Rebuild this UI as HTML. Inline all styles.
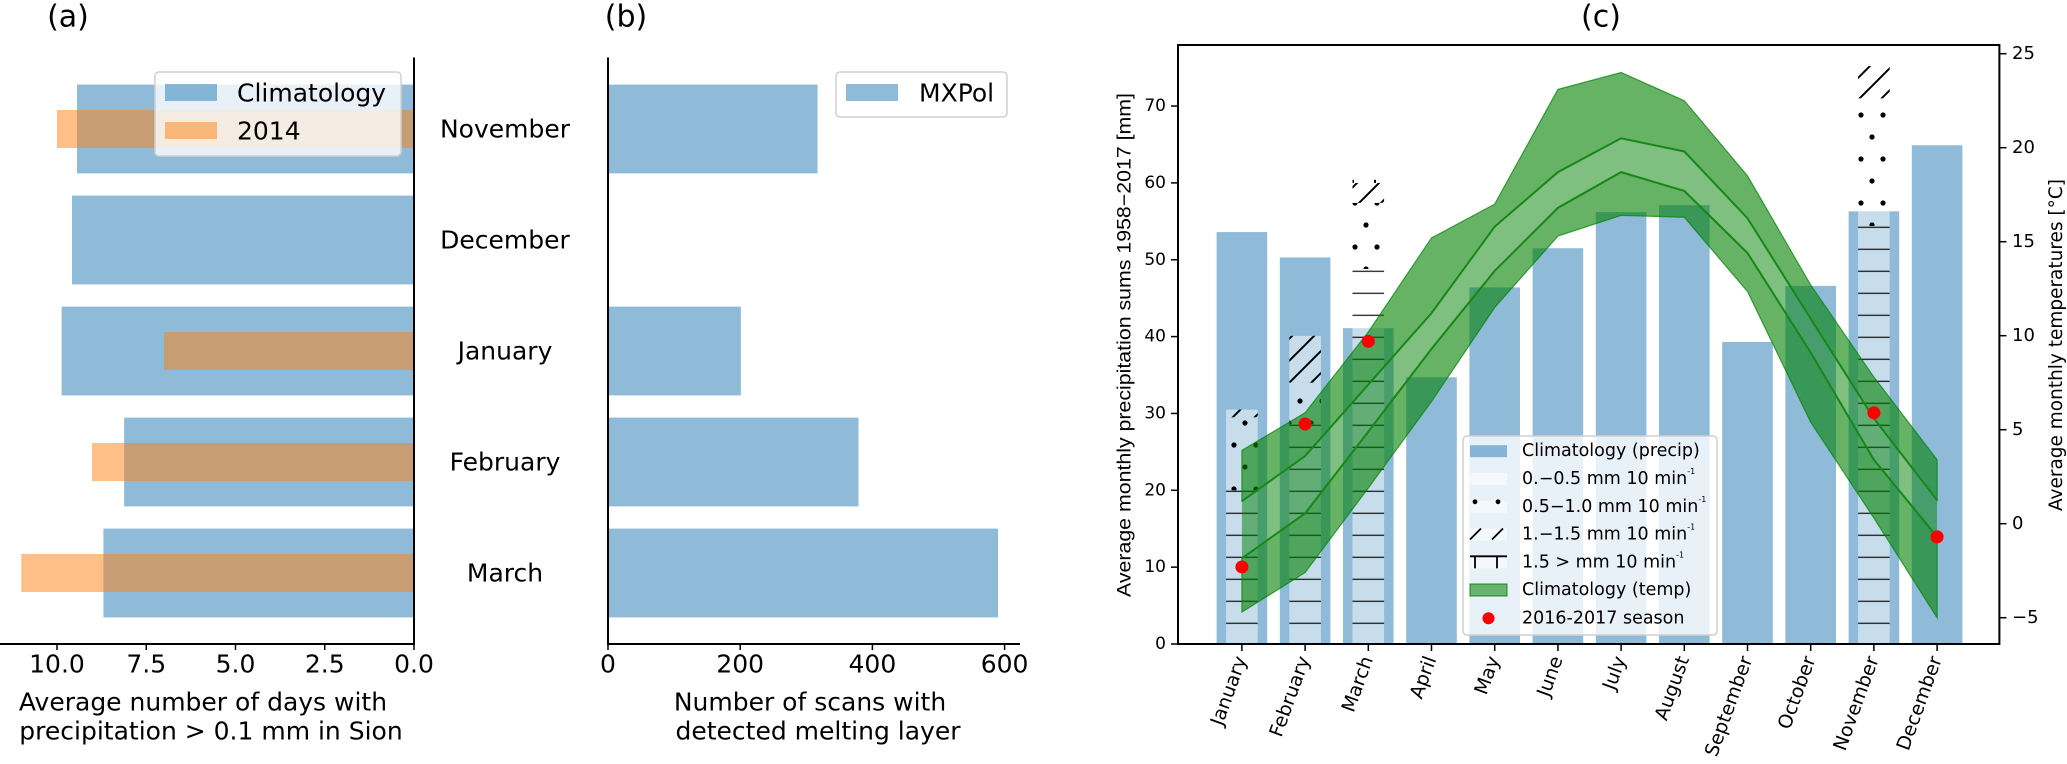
<!DOCTYPE html>
<html><head><meta charset="utf-8">
<style>
html,body{margin:0;padding:0;background:#fff;}
svg{display:block;font-family:"DejaVu Sans","Liberation Sans",sans-serif;}
</style></head>
<body>
<svg id="fig" width="2067" height="764" viewBox="0 0 2067 764" xmlns="http://www.w3.org/2000/svg">
<defs>
  <pattern id="pLines" patternUnits="userSpaceOnUse" width="22" height="22" y="6.7">
    <line x1="0" y1="0" x2="22" y2="0" stroke="#000" stroke-width="2.2"/>
  </pattern>
  <pattern id="pDots" patternUnits="userSpaceOnUse" width="22" height="44" x="1226" y="5">
    <circle cx="8" cy="0" r="2.6" fill="#000"/><circle cx="8" cy="44" r="2.6" fill="#000"/>
    <circle cx="19" cy="22" r="2.6" fill="#000"/>
  </pattern>
  <pattern id="pSlash" patternUnits="userSpaceOnUse" width="22" height="22">
    <line x1="0" y1="22" x2="22" y2="0" stroke="#000" stroke-width="2"/>
    <line x1="-11" y1="11" x2="11" y2="-11" stroke="#000" stroke-width="2"/>
    <line x1="11" y1="33" x2="33" y2="11" stroke="#000" stroke-width="2"/>
  </pattern>
  <pattern id="pPlus" patternUnits="userSpaceOnUse" width="22" height="22">
    <line x1="0" y1="0" x2="22" y2="0" stroke="#000" stroke-width="2"/>
    <line x1="11" y1="0" x2="11" y2="22" stroke="#000" stroke-width="2"/>
  </pattern>
</defs>
<g id="pa"></g>
<g id="pb"></g>
<g id="pc"></g>
</svg>
<script>
// ---- Panel (a) data
const monthsA = ['November','December','January','February','March'];
const climDays = [9.44, 9.58, 9.87, 8.12, 8.7];
const days2014 = [10.0, null, 7.0, 9.02, 11.0];
const ticksA = [10.0, 7.5, 5.0, 2.5, 0.0];
// ---- Panel (b) data
const scans = [317, 0, 201, 379, 590];
const ticksB = [0, 200, 400, 600];
// ---- Panel (c) data
const months12 = ['January','February','March','April','May','June','July','August','September','October','November','December'];
const precip = [53.6, 50.3, 41.1, 34.7, 46.4, 51.5, 56.2, 57.1, 39.3, 46.6, 56.3, 64.9];
const hLines = [20.0, 28.6, 48.8, 0, 0, 0, 0, 0, 0, 0, 54.4, 0];
const hDots  = [9.5, 5.4, 8.6, 0, 0, 0, 0, 0, 0, 0, 16.6, 0];
const hSlash = [1.0, 6.1, 2.6, 0, 0, 0, 0, 0, 0, 0, 4.2, 0];
const hPlus  = [0, 0, 0.4, 0, 0, 0, 0, 0, 0, 0, 0, 0];
const tUpperOuter = [3.9, 5.9, 10.2, 15.2, 17.0, 23.1, 24.0, 22.5, 18.5, 12.7, 7.8, 3.4];
const tUpperInner = [1.2, 3.6, 7.4, 11.2, 15.8, 18.7, 20.5, 19.8, 16.25, 10.9, 5.6, 1.25];
const tLowerInner = [-1.84, 0.55, 4.9, 9.3, 13.45, 16.8, 18.7, 17.7, 14.4, 9.1, 3.4, -0.7];
const tLowerOuter = [-4.7, -2.6, 1.9, 6.5, 11.5, 15.3, 16.4, 16.3, 12.35, 5.4, 0.3, -5.0];
const season = [-2.3, 5.3, 9.7, null, null, null, null, null, null, null, 5.9, -0.7];
const ticksCL = [0, 10, 20, 30, 40, 50, 60, 70];
const ticksCR = [-5, 0, 5, 10, 15, 20, 25];

const NS = 'http://www.w3.org/2000/svg';
function mk(parent, tag, attrs, text){
  const e = document.createElementNS(NS, tag);
  for (const k in attrs) e.setAttribute(k, attrs[k]);
  if (text !== undefined) e.textContent = text;
  parent.appendChild(e);
  return e;
}
const BLUE = 'rgba(31,119,180,0.5)', ORANGE = 'rgba(255,127,14,0.5)';

// ================= Panel A =================
const pa = document.getElementById('pa');
const axA = v => 414 - 35.7 * v;
const rowY = i => 129 + 111 * i;
let t = mk(pa, 'text', {x: 68, y: 17, 'font-size': 30, 'text-anchor': 'middle', 'dominant-baseline': 'central'}, '(a)');


monthsA.forEach((m, i) => {
  const r = mk(pa, 'rect', {x: axA(climDays[i]), y: rowY(i) - 44.4, width: axA(0) - axA(climDays[i]), height: 88.8, fill: BLUE});
  
  
  if (days2014[i] !== null) {
    const o = mk(pa, 'rect', {x: axA(days2014[i]), y: rowY(i) - 19, width: axA(0) - axA(days2014[i]), height: 38, fill: ORANGE});
    
    
  }
  const l = mk(pa, 'text', {x: 505, y: rowY(i), 'font-size': 25, 'text-anchor': 'middle', 'dominant-baseline': 'central'}, m);
  
  
});
let ln = mk(pa, 'line', {x1: 414, y1: 57.5, x2: 414, y2: 644, stroke: '#000', 'stroke-width': 2});


ln = mk(pa, 'line', {x1: 0, y1: 644, x2: 415, y2: 644, stroke: '#000', 'stroke-width': 2});


ticksA.forEach(v => {
  mk(pa, 'line', {x1: axA(v), y1: 644, x2: axA(v), y2: 650, stroke: '#000', 'stroke-width': 1.5});
  const tl = mk(pa, 'text', {x: axA(v), y: 664, 'font-size': 25, 'text-anchor': 'middle', 'dominant-baseline': 'central'}, v.toFixed(1));
  
  
});
t = mk(pa, 'text', {x: 203, y: 702, 'font-size': 25, 'text-anchor': 'middle', 'dominant-baseline': 'central'}, 'Average number of days with');


t = mk(pa, 'text', {x: 211, y: 731, 'font-size': 25, 'text-anchor': 'middle', 'dominant-baseline': 'central'}, 'precipitation > 0.1 mm in Sion');


// legend A
const legA = mk(pa, 'g', {});


mk(legA, 'rect', {x: 155, y: 72, width: 246, height: 84, rx: 4, fill: 'rgba(255,255,255,0.8)', stroke: '#d0d0d0', 'stroke-width': 1.5});
mk(legA, 'rect', {x: 165, y: 84, width: 52, height: 17, fill: BLUE});
mk(legA, 'rect', {x: 165, y: 122, width: 52, height: 17, fill: ORANGE});
t = mk(legA, 'text', {x: 237, y: 93, 'font-size': 25, 'dominant-baseline': 'central'}, 'Climatology');


t = mk(legA, 'text', {x: 237, y: 131, 'font-size': 25, 'dominant-baseline': 'central'}, '2014');



// ================= Panel B =================
const pb = document.getElementById('pb');
const bx = v => 608 + 0.661 * v;
t = mk(pb, 'text', {x: 626, y: 17, 'font-size': 30, 'text-anchor': 'middle', 'dominant-baseline': 'central'}, '(b)');


scans.forEach((v, i) => {
  if (v > 0) {
    const r = mk(pb, 'rect', {x: bx(0), y: rowY(i) - 44.4, width: bx(v) - bx(0), height: 88.8, fill: BLUE});
    
    
  }
});
ln = mk(pb, 'line', {x1: 608, y1: 57.5, x2: 608, y2: 645, stroke: '#000', 'stroke-width': 2});


ln = mk(pb, 'line', {x1: 607, y1: 644, x2: 1020, y2: 644, stroke: '#000', 'stroke-width': 2});


ticksB.forEach(v => {
  mk(pb, 'line', {x1: bx(v), y1: 644, x2: bx(v), y2: 650, stroke: '#000', 'stroke-width': 1.5});
  const tl = mk(pb, 'text', {x: bx(v), y: 664, 'font-size': 25, 'text-anchor': 'middle', 'dominant-baseline': 'central'}, String(v));
  
  
});
t = mk(pb, 'text', {x: 810, y: 702, 'font-size': 25, 'text-anchor': 'middle', 'dominant-baseline': 'central'}, 'Number of scans with');


t = mk(pb, 'text', {x: 818, y: 731, 'font-size': 25, 'text-anchor': 'middle', 'dominant-baseline': 'central'}, 'detected melting layer');


const legB = mk(pb, 'g', {});


mk(legB, 'rect', {x: 836, y: 72, width: 171, height: 45, rx: 4, fill: 'rgba(255,255,255,0.8)', stroke: '#d0d0d0', 'stroke-width': 1.5});
mk(legB, 'rect', {x: 846, y: 84, width: 52, height: 17, fill: BLUE});
t = mk(legB, 'text', {x: 919, y: 93, 'font-size': 25, 'dominant-baseline': 'central'}, 'MXPol');



// ================= Panel C =================
const pc = document.getElementById('pc');
const cx = i => 1241.9 + 63.2 * i;
const cy = mm => 644 - 7.685 * mm;
const ty = T => 523.7 - 18.8 * T;
t = mk(pc, 'text', {x: 1601, y: 17, 'font-size': 30, 'text-anchor': 'middle', 'dominant-baseline': 'central'}, '(c)');


const clip = mk(document.querySelector('defs'), 'clipPath', {id: 'clipC'});
mk(clip, 'rect', {x: 1178, y: 45, width: 821, height: 599});
const plot = mk(pc, 'g', {'clip-path': 'url(#clipC)'});


months12.forEach((m, i) => {
  const r = mk(plot, 'rect', {x: cx(i) - 25.3, y: cy(precip[i]), width: 50.6, height: cy(0) - cy(precip[i]), fill: BLUE});
  
  
});
// hatched stacked bars
const segs = [[hLines, 'url(#pLines)'], [hDots, 'url(#pDots)'], [hSlash, 'url(#pSlash)'], [hPlus, 'url(#pPlus)']];
months12.forEach((m, i) => {
  let base = 0;
  segs.forEach(([arr, pat], k) => {
    const h = arr[i];
    if (h > 0) {
      mk(plot, 'rect', {x: cx(i) - 15.8, y: cy(base + h), width: 31.6, height: cy(base) - cy(base + h), fill: 'rgba(255,255,255,0.5)'});
      const r = mk(plot, 'rect', {x: cx(i) - 15.8, y: cy(base + h), width: 31.6, height: cy(base) - cy(base + h), fill: pat});
      
      
    }
    base += h;
  });
});
// temperature bands
function bandPath(top, bot){
  let d = '';
  top.forEach((v, i) => { d += (i ? 'L' : 'M') + cx(i) + ',' + ty(v); });
  for (let i = bot.length - 1; i >= 0; i--) d += 'L' + cx(i) + ',' + ty(bot[i]);
  return d + 'Z';
}
function linePath(arr){
  let d = '';
  arr.forEach((v, i) => { d += (i ? 'L' : 'M') + cx(i) + ',' + ty(v); });
  return d;
}
let p = mk(plot, 'path', {d: bandPath(tUpperOuter, tUpperInner), fill: 'rgba(0,128,0,0.6)', stroke: 'rgba(0,128,0,0.7)', 'stroke-width': 1.2});


p = mk(plot, 'path', {d: bandPath(tUpperInner, tLowerInner), fill: 'rgba(0,128,0,0.5)', stroke: 'none'});


p = mk(plot, 'path', {d: bandPath(tLowerInner, tLowerOuter), fill: 'rgba(0,128,0,0.6)', stroke: 'rgba(0,128,0,0.7)', 'stroke-width': 1.2});


p = mk(plot, 'path', {d: linePath(tUpperInner), fill: 'none', stroke: '#178717', 'stroke-width': 2});


p = mk(plot, 'path', {d: linePath(tLowerInner), fill: 'none', stroke: '#178717', 'stroke-width': 2});


season.forEach((v, i) => {
  if (v !== null) {
    const c = mk(plot, 'circle', {cx: cx(i), cy: ty(v), r: 6.5, fill: '#ff0000'});
    
    
  }
});
// frame
const fr = mk(pc, 'rect', {x: 1178, y: 45, width: 821.4, height: 599, fill: 'none', stroke: '#000', 'stroke-width': 2});


ticksCL.forEach(v => {
  mk(pc, 'line', {x1: 1171, y1: cy(v), x2: 1178, y2: cy(v), stroke: '#000', 'stroke-width': 1.5});
  const tl = mk(pc, 'text', {x: 1166, y: cy(v), 'font-size': 17, 'text-anchor': 'end', 'dominant-baseline': 'central'}, String(v));
  
  
});
ticksCR.forEach(v => {
  mk(pc, 'line', {x1: 1999.4, y1: ty(v), x2: 2006.5, y2: ty(v), stroke: '#000', 'stroke-width': 1.5});
  const tl = mk(pc, 'text', {x: 2012, y: ty(v), 'font-size': 18, 'dominant-baseline': 'central'}, v < 0 ? '\u2212' + Math.abs(v) : String(v));
  
  
});
months12.forEach((m, i) => {
  mk(pc, 'line', {x1: cx(i), y1: 644, x2: cx(i), y2: 651, stroke: '#000', 'stroke-width': 1.5});
  const tl = mk(pc, 'text', {x: cx(i) + 5, y: 659, 'font-size': 19, 'text-anchor': 'end', transform: 'rotate(-70 ' + (cx(i) + 5) + ' 659)'}, m);
  
  
});
t = mk(pc, 'text', {x: 0, y: 0, 'font-size': 19, 'text-anchor': 'middle', 'dominant-baseline': 'central', 'font-family': '"Liberation Sans", sans-serif', textLength: 504, lengthAdjust: 'spacingAndGlyphs', transform: 'translate(1125 345) rotate(-90)'}, 'Average monthly precipitation sums 1958\u22122017 [mm]');


t = mk(pc, 'text', {x: 0, y: 0, 'font-size': 19, 'text-anchor': 'middle', 'dominant-baseline': 'central', textLength: 332, lengthAdjust: 'spacingAndGlyphs', transform: 'translate(2056 345) rotate(-90)'}, 'Average monthly temperatures [\u00B0C]');


// legend C
const legC = mk(pc, 'g', {});


mk(legC, 'rect', {x: 1463, y: 436, width: 254, height: 199, rx: 4, fill: 'rgba(255,255,255,0.8)', stroke: '#d0d0d0', 'stroke-width': 1.5});
const rows = [451.2, 479, 506.8, 534.5, 562.3, 590, 618.3];
mk(legC, 'rect', {x: 1470, y: rows[0] - 6, width: 37, height: 12, fill: BLUE});
mk(legC, 'rect', {x: 1470, y: rows[1] - 6, width: 37, height: 12, fill: 'rgba(255,255,255,0.5)'});
mk(legC, 'rect', {x: 1470, y: rows[2] - 6, width: 37, height: 12, fill: 'rgba(255,255,255,0.5)'});
mk(legC, 'circle', {cx: 1475, cy: rows[2] - 5, r: 2.4, fill: '#000'});
mk(legC, 'circle', {cx: 1498, cy: rows[2] - 5, r: 2.4, fill: '#000'});
mk(legC, 'rect', {x: 1470, y: rows[3] - 6, width: 37, height: 12, fill: 'rgba(255,255,255,0.5)'});
mk(legC, 'line', {x1: 1470, y1: rows[3] + 5, x2: 1481, y2: rows[3] - 6, stroke: '#000', 'stroke-width': 1.8});
mk(legC, 'line', {x1: 1492, y1: rows[3] + 5, x2: 1503, y2: rows[3] - 6, stroke: '#000', 'stroke-width': 1.8});
mk(legC, 'rect', {x: 1470, y: rows[4] - 6, width: 37, height: 12, fill: 'rgba(255,255,255,0.5)'});
mk(legC, 'line', {x1: 1470, y1: rows[4] - 6, x2: 1507, y2: rows[4] - 6, stroke: '#000', 'stroke-width': 1.8});
mk(legC, 'line', {x1: 1475, y1: rows[4] - 6, x2: 1475, y2: rows[4] + 6, stroke: '#000', 'stroke-width': 1.8});
mk(legC, 'line', {x1: 1497, y1: rows[4] - 6, x2: 1497, y2: rows[4] + 6, stroke: '#000', 'stroke-width': 1.8});
mk(legC, 'rect', {x: 1470, y: rows[5] - 6, width: 37, height: 12, fill: 'rgba(0,128,0,0.55)', stroke: 'rgba(0,128,0,0.7)', 'stroke-width': 1.2});
mk(legC, 'circle', {cx: 1488.5, cy: rows[6], r: 6, fill: '#ff0000'});
const labelsC = [
  ['Climatology (precip)', null],
  ['0.\u22120.5 mm 10 min', '-1'],
  ['0.5\u22121.0 mm 10 min', '-1'],
  ['1.\u22121.5 mm 10 min', '-1'],
  ['1.5 > mm 10 min', '-1'],
  ['Climatology (temp)', null],
  ['2016-2017 season', null]
];
labelsC.forEach((lb, k) => {
  const tx = mk(legC, 'text', {x: 1522, y: rows[k], 'font-size': 17.5, 'dominant-baseline': 'central'});
  
  
  mk(tx, 'tspan', {}, lb[0]);
  if (lb[1]) mk(tx, 'tspan', {'font-size': 8, dy: -8}, lb[1]);
});
</script>
</body></html>
